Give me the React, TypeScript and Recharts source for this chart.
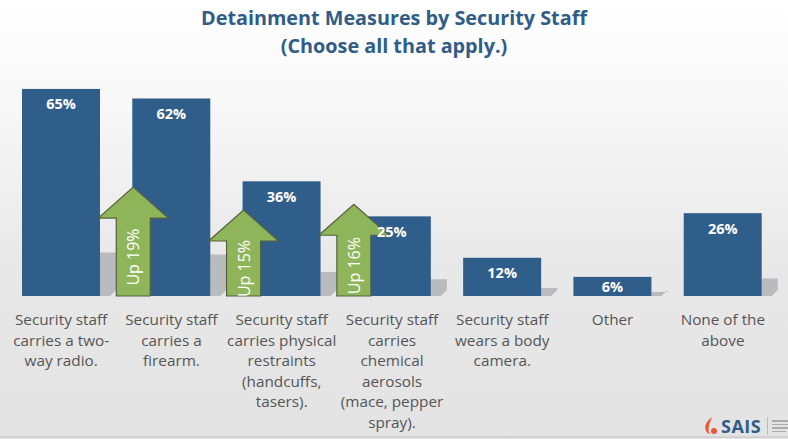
import React from 'react';
import { BarChart, Bar, XAxis, YAxis, LabelList } from 'recharts';

// categories keep the line breaks used on the slide
const categories = [
  'Security staff\ncarries a two-\nway radio.',
  'Security staff\ncarries a\nfirearm.',
  'Security staff\ncarries physical\nrestraints\n(handcuffs,\ntasers).',
  'Security staff\ncarries\nchemical\naerosols\n(mace, pepper\nspray).',
  'Security staff\nwears a body\ncamera.',
  'Other',
  'None of the\nabove',
];
const percents = [65, 62, 36, 25, 12, 6, 26];
const upChange = [null, 19, 15, 16, null, null, null];

const data = categories.map((name, i) => ({ name, value: percents[i], up: upChange[i] }));

const BLUE = '#305e8b';
const GREEN = '#8fb55b';
const FONT = '"Open Sans", "DejaVu Sans", sans-serif';

const renderBar = (props: any) => {
  const { x, y, width, height, payload, value } = props;
  const bottom = y + height;
  const right = x + width;
  const sh = height * 0.21;
  const pxPerUnit = height / value;
  const shadow = `${right},${bottom} ${right},${bottom - sh} ${right + 16},${bottom - sh} ${right + 16},${bottom - 6} ${right + 10},${bottom}`;
  let arrow = null;
  if (payload.up != null) {
    const cx = x + 1;
    const tip = bottom - payload.up * 1.8 * pxPerUnit;
    const shaft = 17;
    const head = 35;
    const headH = 31;
    const pts = [
      [cx - shaft, bottom],
      [cx - shaft, tip + headH],
      [cx - head, tip + headH],
      [cx, tip],
      [cx + head, tip + headH],
      [cx + shaft, tip + headH],
      [cx + shaft, bottom],
    ].map((p) => p.join(',')).join(' ');
    const ty = (tip + headH + bottom) / 2;
    arrow = (
      <g>
        <polygon points={pts} fill={GREEN} stroke="#55603f" strokeWidth={1.2} />
        <text
          x={cx}
          y={ty}
          transform={`rotate(-90 ${cx} ${ty})`}
          textAnchor="middle"
          dominantBaseline="central"
          fill="#fff"
          fontSize={16}
          fontFamily={FONT}
        >
          {`Up ${payload.up}%`}
        </text>
      </g>
    );
  }
  return (
    <g>
      <polygon points={shadow} fill="#b9bbbf" />
      <rect x={x} y={y} width={width} height={height} fill={BLUE} />
      {arrow}
    </g>
  );
};

const renderValue = (props: any) => {
  const { x, y, width, height, value } = props;
  const cy = height < 30 ? y + height / 2 : y + 15;
  return (
    <text
      x={x + width / 2}
      y={cy}
      textAnchor="middle"
      dominantBaseline="central"
      fill="#fff"
      fontSize={14.5}
      fontWeight={700}
      fontFamily={FONT}
    >
      {`${value}%`}
    </text>
  );
};

const CategoryTick = (props: any) => {
  const { x, y, payload } = props;
  const lines = String(payload.value).split('\n');
  return (
    <text x={x} y={y} textAnchor="middle" fill="#555" fontSize={15.3} fontFamily={FONT}>
      {lines.map((l, i) => (
        <tspan key={i} x={x} dy={i === 0 ? 0 : 20.6}>
          {l}
        </tspan>
      ))}
    </text>
  );
};

export default function App() {
  return (
    <div
      style={{
        position: 'absolute',
        left: 0,
        top: 0,
        width: 788,
        height: 439,
        background: 'linear-gradient(#ffffff 0%, #f7f7f7 25%, #e8e8e8 60%, #e3e3e3 100%)',
        fontFamily: FONT,
        overflow: 'hidden',
      }}
    >
      <div
        style={{
          position: 'absolute',
          top: 4,
          left: 0,
          width: 788,
          textAlign: 'center',
          color: '#2f5d88',
          fontWeight: 700,
          fontSize: 19.8,
          lineHeight: '28px',
        }}
      >
        Detainment Measures by Security Staff
        <br />
        (Choose all that apply.)
      </div>
      <BarChart width={788} height={439} data={data} margin={{ top: 73, right: 10, left: 6, bottom: 0 }}>
        <XAxis
          dataKey="name"
          height={143}
          axisLine={false}
          tickLine={false}
          interval={0}
          tick={<CategoryTick />}
          tickMargin={23}
        />
        <YAxis hide domain={[0, 70]} />
        <Bar dataKey="value" barSize={78} shape={renderBar} isAnimationActive={false}>
          <LabelList dataKey="value" content={renderValue} />
        </Bar>
      </BarChart>
      <div style={{ position: 'absolute', left: 0, top: 436, width: 788, height: 2, background: '#d2d2d2' }} />
      <div style={{ position: 'absolute', left: 704, top: 414, display: 'flex', alignItems: 'center' }}>
        <svg width={14} height={18} viewBox="0 0 14 18">
          <path d="M8 0 C 2 5, 0 9, 2 14 C 3 16, 5 17, 6 17 C 3 13, 5 8, 8 0 Z" fill="#e4573d" />
          <circle cx={10} cy={14} r={3} fill="#e4573d" />
        </svg>
        <span style={{ color: '#2f5d88', fontWeight: 700, fontSize: 18, marginLeft: 3, letterSpacing: 0.5 }}>SAIS</span>
        <div style={{ width: 1, height: 18, background: '#bbb', marginLeft: 6 }} />
        <div style={{ marginLeft: 4, display: 'flex', flexDirection: 'column', gap: 2 }}>
          <div style={{ width: 18, height: 1.5, background: '#aaa' }} />
          <div style={{ width: 20, height: 1.5, background: '#aaa' }} />
          <div style={{ width: 20, height: 1.5, background: '#aaa' }} />
          <div style={{ width: 14, height: 1.5, background: '#aaa' }} />
        </div>
      </div>
    </div>
  );
}
